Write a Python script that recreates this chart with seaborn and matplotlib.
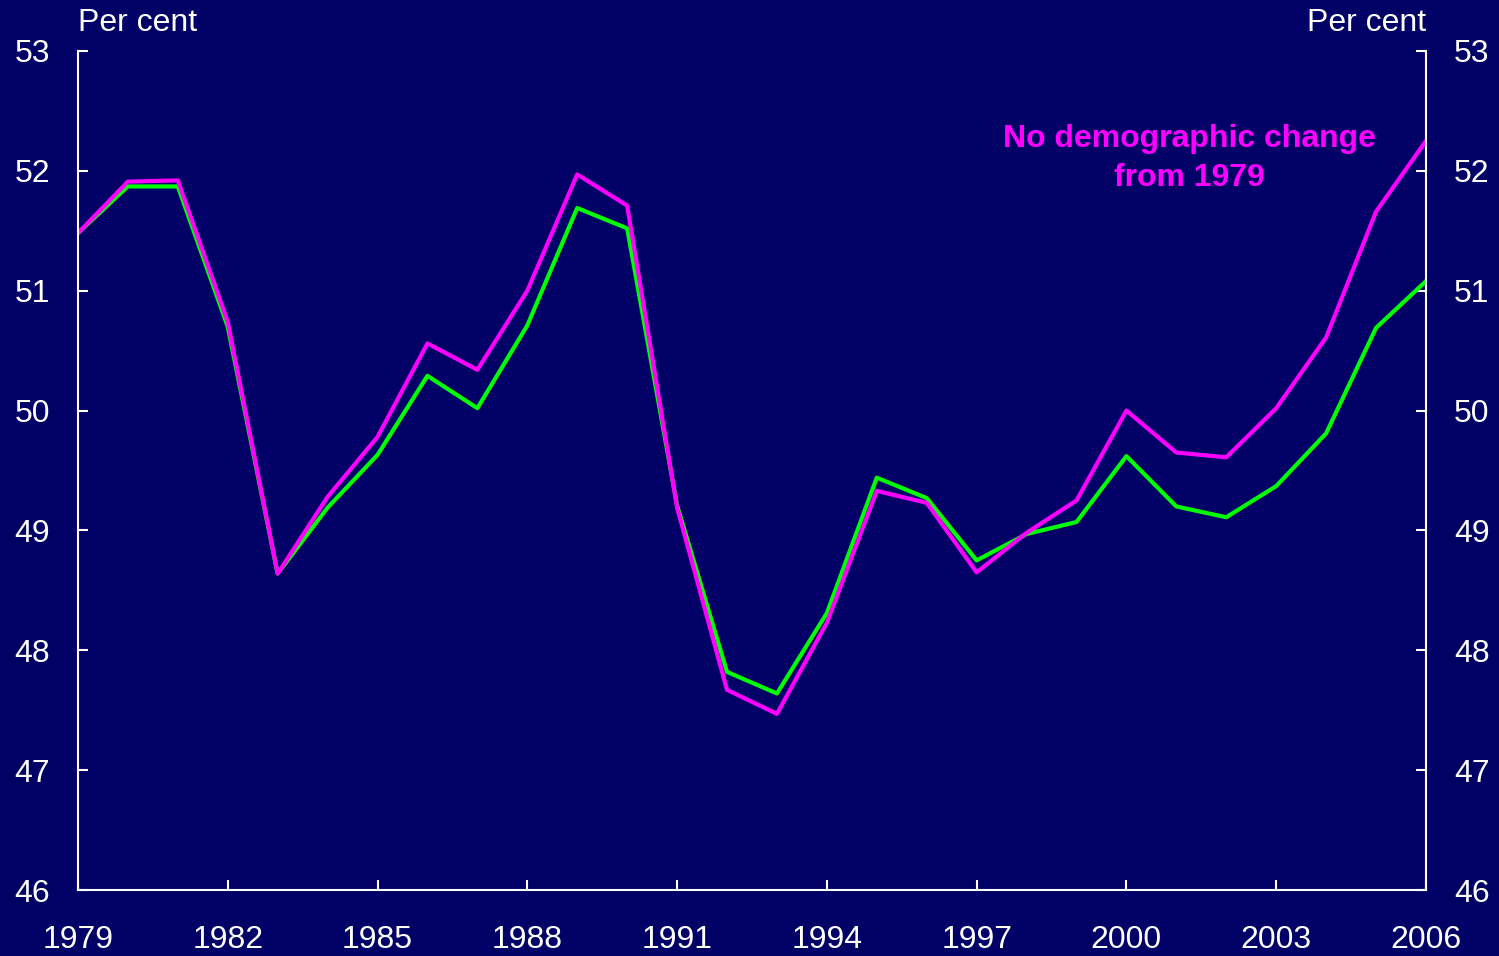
import pandas as pd
import matplotlib
matplotlib.use('Agg')
import matplotlib.pyplot as plt
import seaborn as sns

# Data
years = list(range(1979, 2007))
no_demo_change = [51.48, 51.91, 51.92, 50.74, 48.64, 49.28, 49.78, 50.56, 50.34, 51.00,
                  51.97, 51.71, 49.19, 47.67, 47.47, 48.23, 49.33, 49.23, 48.65, 48.98,
                  49.25, 50.00, 49.65, 49.61, 50.02, 50.61, 51.66, 52.25]
actual = [51.48, 51.87, 51.87, 50.70, 48.64, 49.19, 49.63, 50.29, 50.02, 50.71,
          51.69, 51.52, 49.21, 47.82, 47.64, 48.31, 49.44, 49.27, 48.75, 48.97,
          49.07, 49.62, 49.20, 49.11, 49.37, 49.81, 50.69, 51.08]
xticks = list(range(1979, 2007, 3))
yticks = list(range(46, 54))

bg = '#000066'
df = pd.DataFrame({
    'Year': years * 2,
    'Value': actual + no_demo_change,
    'Series': ['Actual'] * len(years) + ['No demographic change'] * len(years),
})

sns.set_style('ticks', {'axes.facecolor': bg, 'figure.facecolor': bg,
                        'axes.edgecolor': 'white', 'xtick.color': 'white',
                        'ytick.color': 'white', 'text.color': 'white'})
plt.rcParams['font.family'] = ['Liberation Sans', 'DejaVu Sans']

fig = plt.figure(figsize=(14.99, 9.56), dpi=100)
ax = fig.add_axes([0.052, 0.069, 0.8993, 0.8777])

sns.lineplot(data=df, x='Year', y='Value', hue='Series',
             palette={'Actual': '#00ff00', 'No demographic change': '#ff00ff'},
             linewidth=3, legend=False, ax=ax)

ax.set_xlim(1979, 2006)
ax.set_ylim(46, 53)
ax.set_xticks(xticks)
ax.set_yticks(yticks)
ax.set_xlabel('')
ax.set_ylabel('')

for s in ['left', 'bottom', 'right']:
    ax.spines[s].set_visible(True)
    ax.spines[s].set_color('white')
    ax.spines[s].set_linewidth(1.5)
ax.spines['top'].set_visible(False)

ax.yaxis.set_ticks_position('both')
ax.tick_params(axis='y', direction='in', length=7, width=1.5, labelsize=23,
               labelcolor='white', pad=20, labelright=True)
ax.tick_params(axis='x', direction='in', length=7, width=1.5, labelsize=23,
               labelcolor='white', pad=25)

ax.text(0, 1.033, 'Per cent', transform=ax.transAxes, ha='left', va='center',
        fontsize=23, color='white')
ax.text(1, 1.033, 'Per cent', transform=ax.transAxes, ha='right', va='center',
        fontsize=23, color='white')

ax.text(2001.27, 52.10, 'No demographic change\nfrom 1979', ha='center', va='center',
        fontsize=23, fontweight='bold', color='#ff00ff', linespacing=1.38)

fig.savefig('out.png', dpi=100, facecolor=bg)
